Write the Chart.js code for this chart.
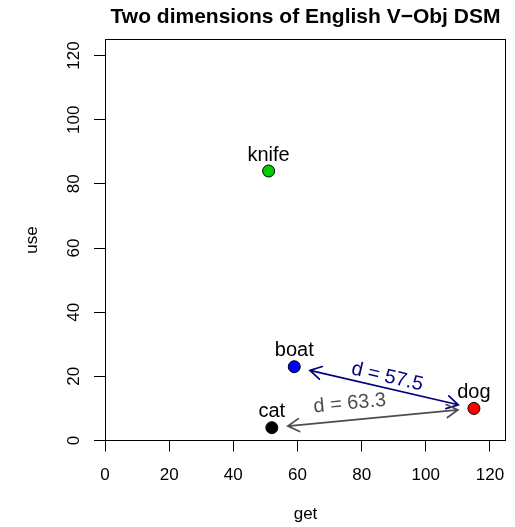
<!DOCTYPE html>
<html>
<head>
<meta charset="utf-8">
<script src="https://cdn.jsdelivr.net/npm/chart.js@4/dist/chart.umd.min.js"></script>
<style>
  html, body { margin: 0; padding: 0; background: #fff; }
  #chart { display: block; }
</style>
</head>
<body>
<canvas id="chart" width="515" height="527"></canvas>
<script>
// --- data ---
const words = ['knife', 'cat', 'dog', 'boat'];
const getCounts = [51, 52, 115, 59];
const useCounts = [84, 4, 10, 23];
const pointColors = ['#00CD00', '#000000', '#FF0000', '#0000FF'];

const xTicks = [0, 20, 40, 60, 80, 100, 120];
const yTicks = [0, 20, 40, 60, 80, 100, 120];

// distance arrows (dog -> other word)
const arrowFrom = ['dog', 'dog'];
const arrowTo = ['boat', 'cat'];
const arrowLabels = ['d = 57.5', 'd = 63.3'];

// annotation placement (data units) and styling
const arrowLabelGet = [88, 76.3];
const arrowLabelUse = [19.8, 11.5];
const arrowColors = ['#000080', '#4D4D4D'];

const FONT = '"Liberation Sans", Arial, Helvetica, sans-serif';
const ARROW_GAP = 5;      // data units trimmed off each end
const HEAD_LEN = 13;
const HEAD_ANGLE = Math.PI / 6;

const annotate = {
    id: 'annotate',
    afterDatasetsDraw(chart) {
        const { ctx, chartArea: a, scales: { x, y } } = chart;
        ctx.save();

        // plot box
        ctx.strokeStyle = '#000';
        ctx.lineWidth = 1;
        const L = Math.floor(a.left) + 0.5, T = Math.floor(a.top) + 0.5;
        const R = Math.floor(a.right) - 0.5, B = Math.floor(a.bottom) + 0.5;
        ctx.strokeRect(L, T, R - L, B - T);

        // y tick labels, rotated like R
        ctx.fillStyle = '#000';
        ctx.font = `17px ${FONT}`;
        ctx.textAlign = 'center';
        ctx.textBaseline = 'middle';
        yTicks.forEach(v => {
            ctx.save();
            ctx.translate(74, y.getPixelForValue(v));
            ctx.rotate(-Math.PI / 2);
            ctx.fillText(String(v), 0, 0);
            ctx.restore();
        });

        // arrows
        arrowFrom.forEach((from, i) => {
            const p = words.indexOf(from), q = words.indexOf(arrowTo[i]);
            const x1 = getCounts[p], y1 = useCounts[p], x2 = getCounts[q], y2 = useCounts[q];
            const len = Math.hypot(x2 - x1, y2 - y1);
            const ux = (x2 - x1) / len, uy = (y2 - y1) / len;
            const sx = x.getPixelForValue(x1 + ux * ARROW_GAP), sy = y.getPixelForValue(y1 + uy * ARROW_GAP);
            const ex = x.getPixelForValue(x2 - ux * ARROW_GAP), ey = y.getPixelForValue(y2 - uy * ARROW_GAP);
            const ang = Math.atan2(ey - sy, ex - sx);

            ctx.strokeStyle = arrowColors[i];
            ctx.lineWidth = 1.7;
            ctx.lineCap = 'round';
            ctx.beginPath();
            ctx.moveTo(sx, sy);
            ctx.lineTo(ex, ey);
            // head at end
            ctx.moveTo(ex - HEAD_LEN * Math.cos(ang - HEAD_ANGLE), ey - HEAD_LEN * Math.sin(ang - HEAD_ANGLE));
            ctx.lineTo(ex, ey);
            ctx.lineTo(ex - HEAD_LEN * Math.cos(ang + HEAD_ANGLE), ey - HEAD_LEN * Math.sin(ang + HEAD_ANGLE));
            // head at start
            ctx.moveTo(sx + HEAD_LEN * Math.cos(ang - HEAD_ANGLE), sy + HEAD_LEN * Math.sin(ang - HEAD_ANGLE));
            ctx.lineTo(sx, sy);
            ctx.lineTo(sx + HEAD_LEN * Math.cos(ang + HEAD_ANGLE), sy + HEAD_LEN * Math.sin(ang + HEAD_ANGLE));
            ctx.stroke();

            // label along the arrow
            let rot = ang;
            if (rot > Math.PI / 2) rot -= Math.PI;
            if (rot < -Math.PI / 2) rot += Math.PI;
            ctx.save();
            ctx.translate(x.getPixelForValue(arrowLabelGet[i]), y.getPixelForValue(arrowLabelUse[i]));
            ctx.rotate(rot);
            ctx.fillStyle = arrowColors[i];
            ctx.font = `20px ${FONT}`;
            ctx.textAlign = 'center';
            ctx.textBaseline = 'middle';
            ctx.fillText(arrowLabels[i], 0, 0);
            ctx.restore();
        });

        // word labels above points
        ctx.fillStyle = '#000';
        ctx.font = `20px ${FONT}`;
        ctx.textAlign = 'center';
        ctx.textBaseline = 'alphabetic';
        words.forEach((w, i) => {
            ctx.fillText(w, x.getPixelForValue(getCounts[i]), y.getPixelForValue(useCounts[i]) - 10.5);
        });

        ctx.restore();
    }
};

new Chart(document.getElementById('chart'), {
    type: 'scatter',
    data: {
        datasets: [{
            data: words.map((w, i) => ({ x: getCounts[i], y: useCounts[i] })),
            backgroundColor: pointColors,
            borderColor: '#000',
            borderWidth: 1,
            pointRadius: 6,
            pointHoverRadius: 6
        }]
    },
    options: {
        responsive: false,
        animation: false,
        layout: { padding: { left: 0, right: 9, top: 0, bottom: 0 } },
        plugins: {
            legend: { display: false },
            tooltip: { enabled: false },
            title: {
                display: true,
                text: 'Two dimensions of English V\u2212Obj DSM',
                fullSize: false,
                color: '#000',
                font: { family: FONT, size: 21, weight: 'bold' },
                padding: { top: 4.9, bottom: 9.4 }
            }
        },
        scales: {
            x: {
                type: 'linear',
                min: 0, max: 125,
                afterBuildTicks: s => { s.ticks = xTicks.map(v => ({ value: v })); },
                afterFit: s => { s.height = 86.5; s.paddingLeft = 0; s.paddingRight = 0; },
                ticks: { color: '#000', padding: 13.3, font: { family: FONT, size: 17 } },
                grid: { drawOnChartArea: false, drawTicks: true, tickLength: 11, color: '#000', lineWidth: 1 },
                border: { display: false },
                title: {
                    display: true, text: 'get', color: '#000',
                    font: { family: FONT, size: 17 },
                    padding: { top: 0, bottom: 2.8 }
                }
            },
            y: {
                type: 'linear',
                min: 0, max: 125,
                afterBuildTicks: s => { s.ticks = yTicks.map(v => ({ value: v })); },
                afterFit: s => { s.width = 105; s.paddingTop = 0; s.paddingBottom = 0; },
                ticks: { display: false },
                grid: { drawOnChartArea: false, drawTicks: true, tickLength: 11, color: '#000', lineWidth: 1 },
                border: { display: false },
                title: {
                    display: true, text: 'use', color: '#000',
                    font: { family: FONT, size: 17 },
                    padding: { top: 22.3, bottom: 0 }
                }
            }
        }
    },
    plugins: [annotate]
});
</script>
</body>
</html>
